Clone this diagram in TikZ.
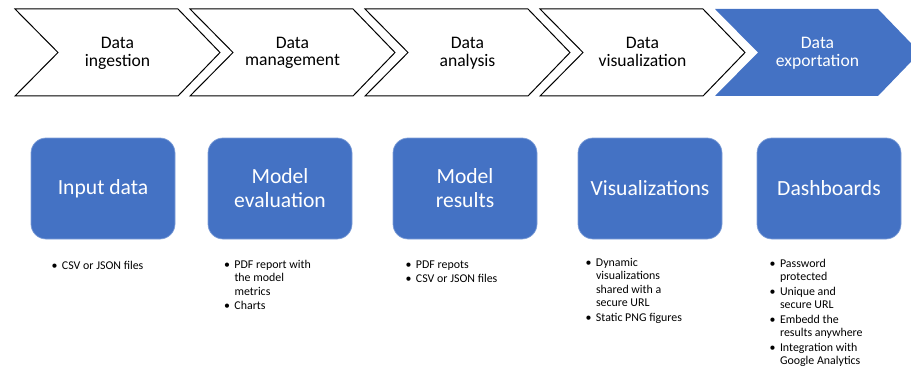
\documentclass[tikz,border=0pt]{standalone}
\usepackage{fontspec}
\setmainfont{Carlito}
\definecolor{accent}{HTML}{4472C4}
\definecolor{accentedge}{HTML}{7F9FD8}
\newcommand\bul[1]{\makebox[10.3pt][l]{\textbullet}#1}
\newcommand\cont[1]{\hspace*{10.3pt}#1}
\newcommand\twolines[2]{\begin{tabular}[t]{@{}c@{}}#1\\#2\end{tabular}}
\tikzset{
  stage/.style={draw=black, line width=1pt, fill=white, line join=miter},
  stagelast/.style={fill=accent, draw=none},
  stagelabel/.style={anchor=base, font=\fontsize{17.6}{16.6}\selectfont, text=black, inner sep=0pt},
  box/.style={fill=accent, draw=accentedge, line width=0.7pt, rounded corners=15pt,
              minimum width=144pt, minimum height=101pt, inner sep=0pt},
  boxlabel/.style={align=center, font=\fontsize{21.6}{24}\selectfont, text=white, inner sep=0pt},
  notes/.style={anchor=base west, inner sep=0pt, font=\fontsize{11.9}{13.5}\selectfont}
}
\begin{document}
\begin{tikzpicture}[x=1pt, y=-1pt]
\useasboundingbox (0,0) rectangle (911,369);

% chevron arrows of the pipeline, top row
\foreach \L/\sty in {15/stage, 190/stage, 365/stage, 540/stage, 715/stagelast} {
  \path[\sty] (\L,9) -- (\L+163,9) -- (\L+205,52.5) -- (\L+163,96) -- (\L,96) -- (\L+43,52.5) -- cycle;
}
\node[stagelabel] (s1) at (117.5,49) {\twolines{Data}{ingestion}};
\node[stagelabel] (s2) at (292.5,49) {\twolines{Data}{management}};
\node[stagelabel] (s3) at (467.5,49) {\twolines{Data}{analysis}};
\node[stagelabel] (s4) at (642.5,49) {\twolines{Data}{visualization}};
\node[stagelabel, text=white] (s5) at (817.5,49) {\twolines{Data}{exportation}};

% output boxes
\node[box] (b1) at (103,188.5) {};
\node[boxlabel] (t1) at (b1) {Input data};
\node[box] (b2) at (280,188.5) {};
\node[boxlabel] (t2) at (b2) {Model\\evaluation};
\node[box] (b3) at (465,188.5) {};
\node[boxlabel] (t3) at (b3) {Model\\results};
\node[box] (b4) at (650,188.5) {};
\node[boxlabel] (t4) at (b4) {Visualizations};
\node[box] (b5) at (829,188.5) {};
\node[boxlabel] (t5) at (b5) {Dashboards};

% bullet notes under each box
\node[notes] (n1) at (51.5,269) {\begin{tabular}[t]{@{}l@{}}
\bul{CSV or JSON files}
\end{tabular}};
\node[notes] (n2) at (224,268) {\begin{tabular}[t]{@{}l@{}}
\bul{PDF report with}\\
\cont{the model}\\
\cont{metrics}\\[1pt]
\bul{Charts}
\end{tabular}};
\node[notes] (n3) at (405.5,268) {\begin{tabular}[t]{@{}l@{}}
\bul{PDF repots}\\[1pt]
\bul{CSV or JSON files}
\end{tabular}};
\node[notes] (n4) at (585.5,266) {\begin{tabular}[t]{@{}l@{}}
\bul{Dynamic}\\
\cont{visualizations}\\
\cont{shared with a}\\
\cont{secure URL}\\[1pt]
\bul{Static PNG figures}
\end{tabular}};
\node[notes] (n5) at (769.5,267) {\begin{tabular}[t]{@{}l@{}}
\bul{Password}\\
\cont{protected}\\[1pt]
\bul{Unique and}\\
\cont{secure URL}\\[1pt]
\bul{Embedd the}\\
\cont{results anywhere}\\[1pt]
\bul{Integration with}\\
\cont{Google Analytics}
\end{tabular}};
\end{tikzpicture}
\end{document}
